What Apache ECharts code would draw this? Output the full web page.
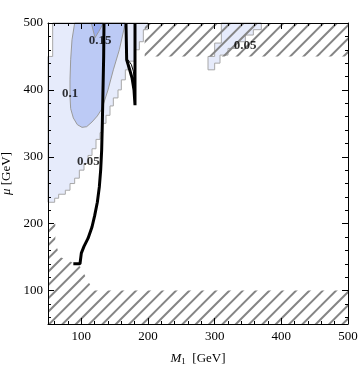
<!DOCTYPE html>
<html><head><meta charset="utf-8">
<script src="https://cdn.jsdelivr.net/npm/echarts@6/dist/echarts.min.js"></script>
<style>html,body{margin:0;padding:0;background:#fff}#c{width:360px;height:374px}</style>
</head><body><div id="c"></div>
<script>
// ---- data ----
const xMajorTicks = [100, 200, 300, 400, 500];
const yMajorTicks = [100, 200, 300, 400, 500];
const xMinorTicks = [60, 80, 120, 140, 160, 180, 220, 240, 260, 280, 320, 340, 360, 380, 420, 440, 460, 480];
const yMinorTicks = [60, 80, 120, 140, 160, 180, 220, 240, 260, 280, 320, 340, 360, 380, 420, 440, 460, 480];

// contour regions [M1, mu]
const region005Main = [[57,500],[57,450],[50,450],[50,232],[60,232],[60,238],[66,238],[66,244],[76,244],[76,250],[83,250],[83,260],[90,260],[90,268],[97,268],[97,280],[104,280],[104,290],[110,290],[110,302],[116,302],[116,312],[122,312],[122,326],[128,326],[128,336],[132,336],[132,350],[137,350],[137,362],[143,362],[143,376],[148,376],[148,388],[155,388],[155,400],[160,400],[160,415],[166,415],[166,430],[170,430],[170,443],[180,443],[180,460],[187,460],[187,472],[193,472],[193,490],[200,490],[200,500]];
const region005Strip = [[310,500],[310,470],[300,470],[300,450],[290,450],[290,430],[300,430],[300,440],[308,440],[308,452],[320,452],[320,462],[332,462],[332,472],[346,472],[346,482],[358,482],[358,490],[370,490],[370,500]];
const region01 = [[90,500],[86,475],[84,445],[83,415],[83,390],[84,372],[88,358],[94,348],[101,344],[108,345],[116,352],[124,361],[131,372],[140,400],[148,430],[157,460],[166,500]];
const region015 = [[115,500],[118,488],[120.5,478],[126,487],[131,496],[133,500]];

// excluded (hatched) regions
const hatchTop = [[195,450],[500,450],[500,500],[195,500]];
const hatchBottom = [[50,50],[500,50],[500,100],[118,100],[107,120],[98,136],[82,144],[68,150],[61,172],[61,200],[50,202]];

// black curves
const curveA = [[88,140],[98,140],[100,156],[104,166],[110,178],[116,195],[120,212],[124,232],[127,255],[129,280],[130.5,310],[131.5,350],[132.5,400],[133.5,450],[134,500]];
const curveB = [[167,500],[168,445],[172,432],[176,418],[179,400],[180.5,377],[180.5,500]];
const curveBInner = [[169,446],[175,438],[178,428],[180,412]];

// contour labels
const labelText = ['0.15', '0.1', '0.05', '0.05'];
const labelM1 = [128, 83, 110.5, 345.5];
const labelMu = [473, 394, 293, 466];

// ---- styles ----
const FONT = 'Liberation Serif';
const tile = document.createElement('canvas');
tile.width = 40; tile.height = 40;
(function(){
  const ctx = tile.getContext('2d');
  ctx.strokeStyle = '#858585';
  ctx.lineWidth = 2;
  for (let k = 0; k <= 6; k++) {
    const c = k * 40 / 3;
    ctx.beginPath();
    ctx.moveTo(-10, c + 10);
    ctx.lineTo(c + 10, -10);
    ctx.stroke();
  }
})();
const hatchFill = { image: tile, repeat: 'repeat' };

function polySeries(points, fill, stroke, lw, z) {
  return {
    type: 'custom', coordinateSystem: 'cartesian2d', xAxisIndex: 0, yAxisIndex: 0,
    silent: true, z: z, data: [points[0]],
    renderItem: function (params, api) {
      return { type: 'polygon', shape: { points: points.map(p => api.coord(p)) },
               style: { fill: fill, stroke: stroke, lineWidth: lw } };
    }
  };
}
function lineSeries(points, width, z) {
  return { type: 'line', xAxisIndex: 0, yAxisIndex: 0, data: points, symbol: 'none', silent: true,
           z: z, lineStyle: { color: '#000', width: width }, animation: false };
}

function axisBase(extra) {
  return Object.assign({ type: 'value', min: 50, max: 500, z: 10,
    splitLine: { show: false }, axisLine: { show: false },
    axisLabel: { show: false }, axisTick: { show: false } }, extra);
}

const chart = echarts.init(document.getElementById('c'), null, { renderer: 'canvas' });
chart.setOption({
  animation: false,
  backgroundColor: '#fff',
  grid: { left: 48, right: 12, top: 23, bottom: 50, containLabel: false, outerBoundsMode: 'none' },
  xAxis: [
    axisBase({ position: 'bottom',
      axisLine: { show: true, onZero: false, lineStyle: { color: '#000', width: 1 } },
      axisTick: { show: true, inside: true, length: 6, customValues: xMajorTicks, lineStyle: { color: '#000' } },
      axisLabel: { show: true, customValues: xMajorTicks, margin: 6, fontFamily: FONT, fontSize: 13, color: '#000' },
      name: '{i|M}{s|1}  [GeV]', nameLocation: 'middle', nameGap: 27,
      nameTextStyle: { fontFamily: FONT, fontSize: 13, color: '#000',
        rich: { i: { fontFamily: FONT, fontSize: 13, fontStyle: 'italic', color: '#000' },
                s: { fontFamily: FONT, fontSize: 9, color: '#000', padding: [6, 0, 0, 0] } } } }),
    axisBase({ position: 'bottom',
      axisTick: { show: true, inside: true, length: 3, customValues: xMinorTicks, lineStyle: { color: '#000' } } }),
    axisBase({ position: 'top',
      axisLine: { show: true, onZero: false, lineStyle: { color: '#000', width: 1 } },
      axisTick: { show: true, inside: true, length: 6, customValues: xMajorTicks, lineStyle: { color: '#000' } } }),
    axisBase({ position: 'top',
      axisTick: { show: true, inside: true, length: 3, customValues: xMinorTicks, lineStyle: { color: '#000' } } })
  ],
  yAxis: [
    axisBase({ position: 'left',
      axisLine: { show: true, onZero: false, lineStyle: { color: '#000', width: 1 } },
      axisTick: { show: true, inside: true, length: 6, customValues: yMajorTicks, lineStyle: { color: '#000' } },
      axisLabel: { show: true, customValues: yMajorTicks, margin: 5, fontFamily: FONT, fontSize: 13, color: '#000' },
      name: '{i|μ} [GeV]', nameLocation: 'middle', nameGap: 33, nameRotate: 90,
      nameTextStyle: { fontFamily: FONT, fontSize: 13, color: '#000',
        rich: { i: { fontFamily: FONT, fontSize: 13, fontStyle: 'italic', color: '#000' } } } }),
    axisBase({ position: 'left',
      axisTick: { show: true, inside: true, length: 3, customValues: yMinorTicks, lineStyle: { color: '#000' } } }),
    axisBase({ position: 'right',
      axisLine: { show: true, onZero: false, lineStyle: { color: '#000', width: 1 } },
      axisTick: { show: true, inside: true, length: 6, customValues: yMajorTicks, lineStyle: { color: '#000' } } }),
    axisBase({ position: 'right',
      axisTick: { show: true, inside: true, length: 3, customValues: yMinorTicks, lineStyle: { color: '#000' } } })
  ],
  series: [
    polySeries(region005Main, '#e6ebfb', '#a8a8a8', 1, 1),
    polySeries(region005Strip, '#e6ebfb', '#a8a8a8', 1, 1),
    polySeries(region01, '#bccaf5', '#9a9a9a', 1, 2),
    polySeries(region015, '#97abee', '#9a9a9a', 1, 3),
    polySeries(hatchTop, hatchFill, null, 0, 4),
    polySeries(hatchBottom, hatchFill, null, 0, 4),
    lineSeries(curveA, 3, 5),
    lineSeries(curveB, 3, 5),
    lineSeries(curveBInner, 1, 5),
    {
      type: 'scatter', xAxisIndex: 0, yAxisIndex: 0, symbolSize: 0, silent: true, z: 8,
      data: labelText.map((t, i) => ({ name: t, value: [labelM1[i], labelMu[i]] })),
      label: { show: true, position: 'inside', formatter: '{b}', fontFamily: FONT, fontSize: 13,
               fontWeight: 'bold', color: '#000' }
    }
  ]
});
</script></body></html>
